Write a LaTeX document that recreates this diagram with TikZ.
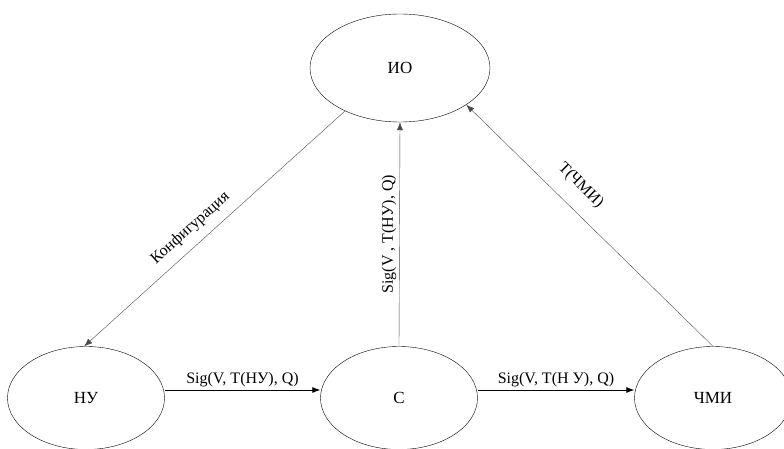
\documentclass[tikz,border=0pt]{standalone}
\usepackage{fontspec}
\setmainfont{Liberation Serif}
\usetikzlibrary{arrows.meta,shapes.geometric}

\begin{document}
\begin{tikzpicture}[x=1pt,y=1pt,
	state/.style={draw,ellipse,minimum width=157pt,minimum height=103pt,font=\fontsize{17}{20}\selectfont},
	lbl/.style={font=\fontsize{16}{19}\selectfont,inner sep=3pt},
	>={Latex[length=8pt,width=6pt]}]
		\useasboundingbox (0,0) rectangle (784,448);
		
		\node[state,minimum width=180pt,minimum height=108pt] (io) at (400,380) {ИО};
		\node[state] (nu) at (86,50) {НУ};
		\node[state] (c) at (399,50) {С};
		\node[state] (hmi) at (713,50) {ЧМИ};
		
		\draw[->,thick] ([yshift=8pt]nu.east)--node[lbl,above]{Sig(V, T(НУ), Q)}([yshift=8pt]c.west);
		\draw[->,thick] ([yshift=8pt]c.east)--node[lbl,above]{Sig(V, T(Н У), Q)}([yshift=8pt]hmi.west);
		\draw[->,draw=black!70] (c.north)--node[lbl,above,rotate=90]{Sig(V , T(НУ), Q)}(io.south);
		\draw[->,draw=black!70] (io.218)--node[lbl,above=6pt,sloped,pos=0.55]{Конфигурация}(nu.92);
		\draw[->,draw=black!70] (hmi.north)--node[lbl,above=12pt,sloped,pos=0.6]{T(ЧМИ)}(io.-29);
	\end{tikzpicture}
\end{document}
